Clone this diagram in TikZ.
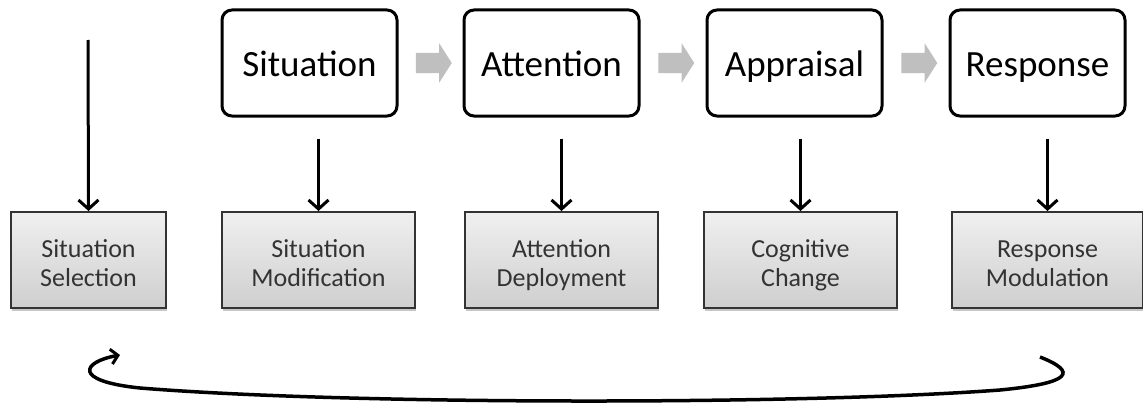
\documentclass[tikz,border=0pt]{standalone}
\usepackage{fontspec}
\setmainfont{Carlito}
\usetikzlibrary{calc,shapes.arrows,shadows,arrows.meta}

\newcommand{\twolines}[2]{\rule{0pt}{31pt}#1\\#2\rule[-8pt]{0pt}{8pt}}

\tikzset{
	stage/.style={draw, line width=3pt, rounded corners=10pt, minimum width=175pt, minimum height=106pt, text height=30pt, text depth=2pt, font=\fontsize{37}{42}\selectfont},
	strategy/.style={draw=black!80, line width=2pt, top color=gray!12, bottom color=gray!38, minimum height=96pt, align=center, text=black!80, font=\fontsize{26}{29}\selectfont, drop shadow={shadow xshift=1pt, shadow yshift=-3pt, opacity=0.45}},
	flow/.style={single arrow, fill=gray!50, inner sep=10pt, single arrow head extend=9.5pt, single arrow tip angle=115, minimum height=36pt},
	down/.style={line width=3pt, -{Straight Barb[length=9pt, width=20pt, line width=3pt]}}
}

\begin{document}
\begin{tikzpicture}[x=1pt, y=-1pt]
	\useasboundingbox (0,0) rectangle (1143,404);

	%stages
	\node[stage] (sit) at (309.5,63) {Situation};
	\node[stage] (att) at (551.5,63) {Attention};
	\node[stage] (app) at (794.5,63) {Appraisal};
	\node[stage] (resp) at (1037.5,63) {Response};

	%flow between stages
	\node[flow] (f1) at ($(sit.east)!0.5!(att.west)$) {};
	\node[flow] (f2) at ($(att.east)!0.5!(app.west)$) {};
	\node[flow] (f3) at ($(app.east)!0.5!(resp.west)$) {};

	%strategies
	\node[strategy, minimum width=155pt] (sel) at (88.5,260) {\twolines{Situation}{Selection}};
	\node[strategy, minimum width=193pt] (mod) at (318.5,260) {\twolines{Situation}{Modification}};
	\node[strategy, minimum width=193pt] (dep) at (561.5,260) {\twolines{Attention}{Deployment}};
	\node[strategy, minimum width=193pt] (cog) at (800.5,260) {\twolines{Cognitive}{Change}};
	\node[strategy, minimum width=191pt] (modu) at (1047.5,260) {\twolines{Response}{Modulation}};

	%arrows down
	\coordinate (start) at (88,40);
	\draw[down] (start) -- (sel.north);
	\draw[down] ([yshift=-21pt]sit.south -| mod.north) -- (mod.north);
	\draw[down] ([yshift=-21pt]att.south -| dep.north) -- (dep.north);
	\draw[down] ([yshift=-21pt]app.south -| cog.north) -- (cog.north);
	\draw[down] ([yshift=-21pt]resp.south -| modu.north) -- (modu.north);

	%feedback
	\coordinate (back) at (1040,357);
	\coordinate (tip) at (120,355);
	\draw[line width=3.5pt, -{Straight Barb[length=7pt, width=15pt, line width=3pt]}] (back) .. controls (1078,372) and (1072,383) .. (1000,390) .. controls (800,405) and (350,405) .. (140,388) .. controls (72,381) and (82,362) .. (tip);
\end{tikzpicture}
\end{document}
